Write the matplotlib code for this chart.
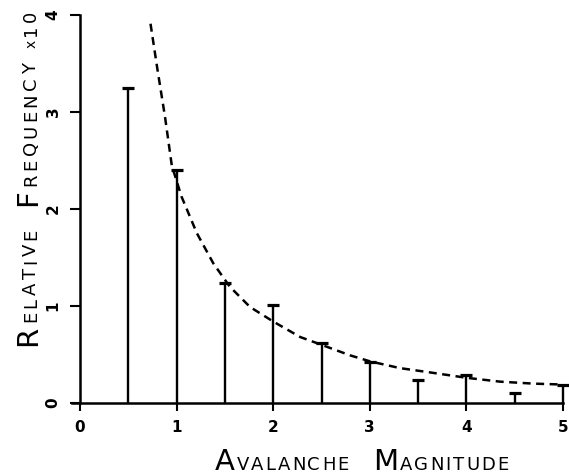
import matplotlib
matplotlib.use('Agg')
import matplotlib.pyplot as plt

# bar (stem) values
magnitude = [0.5, 1.0, 1.5, 2.0, 2.5, 3.0, 3.5, 4.0, 4.5, 5.0]
rel_freq = [3.25, 2.40, 1.24, 1.01, 0.62, 0.42, 0.24, 0.29, 0.10, 0.19]

# dashed fitted curve
curve_x = [0.73, 0.80, 0.88, 0.95, 1.05, 1.21, 1.38, 1.55, 1.76, 2.00,
           2.28, 2.50, 2.80, 3.00, 3.31, 3.66, 4.00, 4.35, 4.69, 5.00]
curve_y = [3.91, 3.45, 2.95, 2.45, 2.13, 1.75, 1.44, 1.20, 0.99, 0.84,
           0.68, 0.60, 0.49, 0.43, 0.36, 0.31, 0.26, 0.22, 0.20, 0.19]

xticks = [0, 1, 2, 3, 4, 5]
yticks = [0, 1, 2, 3, 4]

fig = plt.figure(figsize=(5.69, 4.76), dpi=100)
ax = fig.add_axes([80 / 569, 73 / 476, 483 / 569, 388 / 476])

ax.vlines(magnitude, 0, rel_freq, color='black', lw=1.7, clip_on=False)
ax.plot(magnitude, rel_freq, ls='none', marker='_', ms=9, mew=2.3,
        color='black', clip_on=False)
ax.plot(curve_x, curve_y, ls=(0, (3.2, 2.2)), lw=1.8, color='black', clip_on=False)

ax.set_xlim(0, 5)
ax.set_ylim(0, 4)
ax.spines['top'].set_visible(False)
ax.spines['right'].set_visible(False)
ax.spines['left'].set_linewidth(1.8)
ax.spines['bottom'].set_linewidth(1.8)
ax.spines['bottom'].set_bounds(-0.08, 5)

ax.set_xticks(xticks)
ax.set_yticks(yticks)
ax.set_xticklabels([str(v) for v in xticks], fontsize=11, fontweight='bold')
ax.set_yticklabels([str(v) for v in yticks], fontsize=11, fontweight='bold',
                   rotation=90, va='center')
ax.tick_params(axis='x', direction='out', length=6, width=1.5, pad=6)
ax.tick_params(axis='y', direction='out', length=7, width=1.5, pad=7)


def small_caps(parts, x0, y0, vertical=False, spacing=0.0):
    # draws text pieces of different sizes one after another (pixel coords)
    r = fig.canvas.get_renderer()
    pos = x0 if not vertical else y0
    for s, size in parts:
        if s == ' ':
            pos += size
            continue
        for ch in s:
            if vertical:
                t = fig.text(x0 / fig.bbox.width, pos / fig.bbox.height, ch,
                             fontsize=size, rotation=90, rotation_mode='anchor',
                             ha='left', va='baseline')
                pos += t.get_window_extent(r).height + spacing
            else:
                t = fig.text(pos / fig.bbox.width, y0 / fig.bbox.height, ch,
                             fontsize=size, ha='left', va='baseline')
                pos += t.get_window_extent(r).width + spacing


big, small = 21, 13
small_caps([('A', big), ('VALANCHE', small), (' ', 22), ('M', big), ('AGNITUDE', small)],
           215, 476 - 470, spacing=2)
small_caps([('R', big), ('ELATIVE', small), (' ', 20), ('F', big), ('REQUENCY', small),
            (' ', 12), ('x', 10), ('10', small)],
           36, 476 - 346, vertical=True, spacing=3.3)

fig.savefig('out.png', dpi=100)
